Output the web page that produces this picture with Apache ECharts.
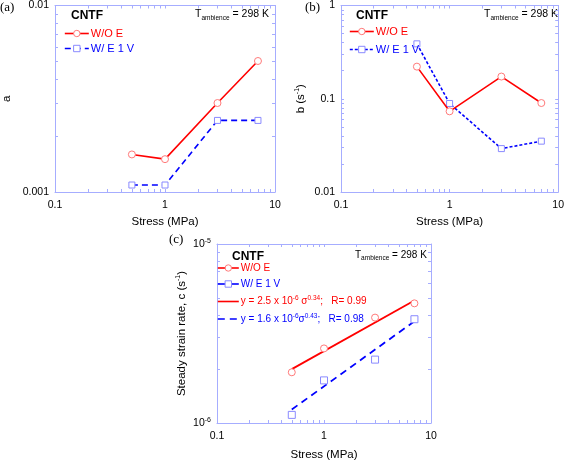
<!DOCTYPE html>
<html><head><meta charset="utf-8">
<script src="https://cdn.jsdelivr.net/npm/echarts@6/dist/echarts.min.js"></script>
<style>html,body{margin:0;padding:0;background:#fff}#c{width:567px;height:462px}</style>
</head><body><div id="c"></div>
<script>
// ---- data ----
const stress = [0.5, 1, 3, 7];
const aWithoutE = [0.00159, 0.00150, 0.00300, 0.00504];
const aWithE = [0.00109, 0.00109, 0.00242, 0.00242];
const bWithoutE = [0.221, 0.0733, 0.173, 0.090];
const bWithE = [0.388, 0.089, 0.0292, 0.0351];
const cWithoutE = [1.92e-6, 2.61e-6, 3.88e-6, 4.66e-6];
const cWithE = [1.11e-6, 1.73e-6, 2.26e-6, 3.80e-6];
const fitStress = [0.5, 7];
const cFitWithoutE = [2.0e-6, 4.84e-6];
const cFitWithE = [1.19e-6, 3.70e-6];

const xTickVals = [0.1, 1, 10];
const xTickLabels = ['0.1', '1', '10'];
const aTickVals = [0.001, 0.01];
const aTickLabels = ['0.001', '0.01'];
const bTickVals = [0.01, 0.1, 1];
const bTickLabels = ['0.01', '0.1', '1'];
const cTickVals = [1e-6, 1e-5];
const cTickLabels = ['{n|10}{s|-6}', '{n|10}{s|-5}'];
const decadeSteps = [1, 2, 3, 4, 5, 6, 7, 8, 9];

// ---- style ----
const BOX = '#a6adff';
const RED = '#ff0000', PINK = '#ff7a7a';
const BLUE = '#0000ff', LBLUE = '#8a8aff';
const FONT = 'Liberation Sans, Arial, sans-serif';

function minorTicks(lo, decades) {
  const out = [];
  for (let d = 0; d < decades; d++) {
    const base = lo * Math.pow(10, d);
    decadeSteps.forEach(s => out.push(base * s));
  }
  return out;
}
function pickLabel(vals, labels) {
  return function (v) {
    const i = vals.findIndex(t => Math.abs(Math.log10(t) - Math.log10(v)) < 1e-6);
    return i >= 0 ? labels[i] : '';
  };
}

const grids = [
  { left: 55, top: 5, width: 220, height: 187 },
  { left: 341, top: 5, width: 219, height: 187 },
  { left: 217, top: 244, width: 214, height: 184 }
];

const xAxis = [], yAxis = [];
const supRich = {
  n: { fontSize: 10.5, fontFamily: FONT, color: '#000' },
  s: { fontSize: 7, fontFamily: FONT, color: '#000', padding: [0, 0, 6, 0] }
};
function addAxes(gi, yMin, yMax, yVals, yLabels, yName, yNameGap, xNameGap) {
  const xTicks = minorTicks(0.1, 2).concat([10]);
  const yTicks = minorTicks(yMin, Math.round(Math.log10(yMax / yMin))).concat([yMax]);
  ['bottom', 'top'].forEach(pos => {
    const main = pos === 'bottom';
    xAxis.push({
      type: 'log', logBase: 10, gridIndex: gi, position: pos, min: 0.1, max: 10,
      axisLine: { show: true, onZero: false, lineStyle: { color: BOX, width: 1 } },
      axisTick: { show: true, inside: true, length: 3, customValues: xTicks, lineStyle: { color: BOX } },
      axisLabel: main ? { show: true, customValues: xTickVals, formatter: pickLabel(xTickVals, xTickLabels), color: '#000', fontSize: 10.5, fontFamily: FONT, margin: 8 } : { show: false },
      splitLine: { show: false },
      name: main ? 'Stress (MPa)' : '', nameLocation: 'middle', nameGap: xNameGap,
      nameTextStyle: { color: '#000', fontSize: 11.5, fontFamily: FONT }
    });
  });
  ['left', 'right'].forEach(pos => {
    const main = pos === 'left';
    yAxis.push({
      type: 'log', logBase: 10, gridIndex: gi, position: pos, min: yMin, max: yMax,
      axisLine: { show: true, onZero: false, lineStyle: { color: BOX, width: 1 } },
      axisTick: { show: true, inside: true, length: 3, customValues: yTicks, lineStyle: { color: BOX } },
      axisLabel: main ? { show: true, customValues: yVals, formatter: pickLabel(yVals, yLabels), color: '#000', fontSize: 10.5, fontFamily: FONT, margin: 6, rich: supRich } : { show: false },
      splitLine: { show: false },
      name: main ? yName : '', nameLocation: 'middle', nameGap: yNameGap, nameRotate: 90,
      nameTextStyle: { color: '#000', fontSize: 11.5, fontFamily: FONT, rich: {
        t: { fontSize: 11.5, fontFamily: FONT, color: '#000' },
        s: { fontSize: 7, fontFamily: FONT, color: '#000', padding: [0, 0, 7, 0] } } }
    });
  });
}
addAxes(0, 0.001, 0.01, aTickVals, aTickLabels, 'a', 42, 24);
addAxes(1, 0.01, 1, bTickVals, bTickLabels, '{t|b (s}{s|-1}{t|)}', 33, 24);
addAxes(2, 1e-6, 1e-5, cTickVals, cTickLabels, '{t|Steady strain rate, c (s}{s|-1}{t|)}', 28, 26);

function pts(xs, ys) { return xs.map((x, i) => [x, ys[i]]); }
function circleStyle() { return { color: '#fff', borderColor: PINK, borderWidth: 1 }; }
function squareStyle() { return { color: '#fff', borderColor: LBLUE, borderWidth: 1 }; }

const series = [
  // panel a (x axes 0,1 ; y axes 0,1)
  { name: 'aWoE', type: 'line', xAxisIndex: 0, yAxisIndex: 0, data: pts(stress, aWithoutE),
    symbol: 'circle', symbolSize: 7, itemStyle: circleStyle(), lineStyle: { color: RED, width: 1.6 }, z: 3 },
  { name: 'aWE', type: 'line', xAxisIndex: 0, yAxisIndex: 0, data: pts(stress, aWithE),
    symbol: 'rect', symbolSize: 6, itemStyle: squareStyle(), lineStyle: { color: BLUE, width: 1.6, type: [6, 4] }, z: 2 },
  // panel b (x axes 2,3 ; y axes 2,3)
  { name: 'bWoE', type: 'line', xAxisIndex: 2, yAxisIndex: 2, data: pts(stress, bWithoutE),
    symbol: 'circle', symbolSize: 7, itemStyle: circleStyle(), lineStyle: { color: RED, width: 1.6 }, z: 3 },
  { name: 'bWE', type: 'line', xAxisIndex: 2, yAxisIndex: 2, data: pts(stress, bWithE),
    symbol: 'rect', symbolSize: 6, itemStyle: squareStyle(), lineStyle: { color: BLUE, width: 1.6, type: [3, 2] }, z: 2 },
  // panel c (x axes 4,5 ; y axes 4,5)
  { name: 'cWoE', type: 'line', xAxisIndex: 4, yAxisIndex: 4, data: pts(stress, cWithoutE),
    symbol: 'circle', symbolSize: 7, itemStyle: circleStyle(), lineStyle: { color: RED, width: 1.6, opacity: 0 }, z: 3 },
  { name: 'cWE', type: 'line', xAxisIndex: 4, yAxisIndex: 4, data: pts(stress, cWithE),
    symbol: 'rect', symbolSize: 7, itemStyle: squareStyle(), lineStyle: { color: BLUE, width: 1.6, opacity: 0 }, z: 3 },
  { name: 'cFitWoE', type: 'line', xAxisIndex: 4, yAxisIndex: 4, data: pts(fitStress, cFitWithoutE),
    symbol: 'none', lineStyle: { color: RED, width: 1.8 }, z: 2 },
  { name: 'cFitWE', type: 'line', xAxisIndex: 4, yAxisIndex: 4, data: pts(fitStress, cFitWithE),
    symbol: 'none', lineStyle: { color: BLUE, width: 1.8, type: [7, 5] }, z: 2 }
];

const legendNames = {
  aWoE: 'W/O E', aWE: 'W/ E 1 V', bWoE: 'W/O E', bWE: 'W/ E 1 V', cWoE: 'W/O E', cWE: 'W/ E 1 V',
  cFitWoE: 'y = 2.5 x 10{s|-6} σ{s|0.34};   R= 0.99',
  cFitWE: 'y = 1.6 x 10{s|-6}σ{s|0.43};   R= 0.98'
};
const legRichRed = { s: { fontSize: 6.5, color: RED, fontFamily: FONT, padding: [0, 0, 6, 0] } };
const legRichBlue = { s: { fontSize: 6.5, color: BLUE, fontFamily: FONT, padding: [0, 0, 6, 0] } };
function legItem(name, color, extra) {
  return Object.assign({ name: name, textStyle: { color: color, rich: color === RED ? legRichRed : legRichBlue },
    itemStyle: { borderWidth: 1 }, lineStyle: { width: 1.6, opacity: 1 } }, extra || {});
}
function mkLegend(left, top, gap, w, data, fs) {
  return { orient: 'vertical', left: left, top: top, itemWidth: w, itemHeight: 8, itemGap: gap,
    padding: 0, selectedMode: false, formatter: n => legendNames[n],
    textStyle: { fontSize: fs, fontFamily: FONT, padding: [0, 0, 0, -3] }, data: data };
}
const legend = [
  mkLegend(64, 28, 4, 24, [legItem('aWoE', RED), legItem('aWE', BLUE)], 11),
  mkLegend(349, 26, 7, 24, [legItem('bWoE', RED), legItem('bWE', BLUE)], 11),
  mkLegend(217, 263, 6, 21, [legItem('cWoE', RED), legItem('cWE', BLUE),
    legItem('cFitWoE', RED, { itemStyle: { opacity: 0 } }), legItem('cFitWE', BLUE, { itemStyle: { opacity: 0 } })], 10)
];

function tamb(x, y, fs) {
  return { type: 'text', left: x, top: y, style: {
    text: '{n|T}{s|ambience}{n| = 298 K}',
    rich: { n: { fontSize: fs, fontFamily: FONT, fill: '#000' },
            s: { fontSize: 6.5, fontFamily: FONT, fill: '#000', padding: [7, 0, 0, 0] } } } };
}
function cntf(x, y) {
  return { type: 'text', left: x, top: y, style: { text: 'CNTF', fontSize: 12, fontWeight: 'bold', fontFamily: FONT, fill: '#000' } };
}
function plab(t, x, y) {
  return { type: 'text', left: x, top: y, style: { text: t, fontSize: 13, fontFamily: 'Liberation Serif, Times New Roman, serif', fill: '#000' } };
}
const graphic = [
  plab('(a)', 0, 1), plab('(b)', 305, 1), plab('(c)', 169, 233),
  cntf(71, 10), cntf(356, 10), cntf(232, 251),
  tamb(195, 9, 10.5), tamb(484, 9, 10.5), tamb(355, 250, 10)
];

const chart = echarts.init(document.getElementById('c'), null, { renderer: 'canvas' });
chart.setOption({
  animation: false,
  backgroundColor: '#fff',
  grid: grids,
  xAxis: xAxis,
  yAxis: yAxis,
  legend: legend,
  graphic: graphic,
  series: series
});
</script>
</body></html>
